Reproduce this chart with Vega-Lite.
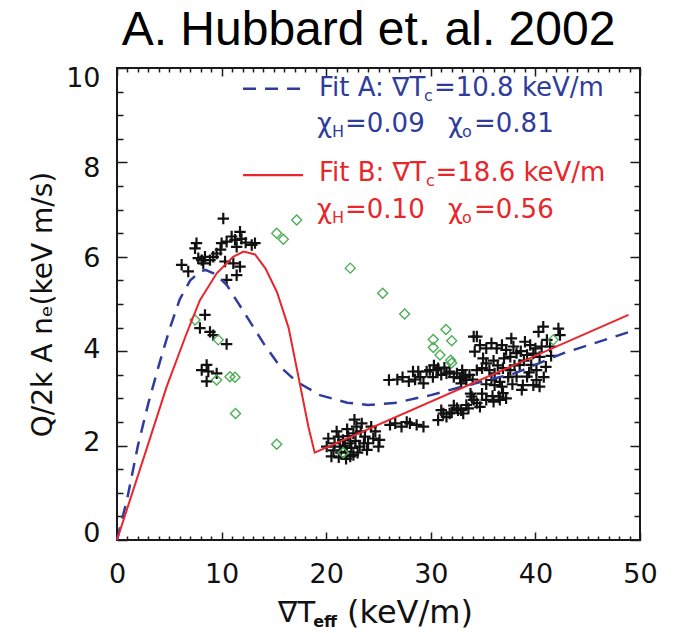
{
  "$schema": "https://vega.github.io/schema/vega-lite/v6.json",
  "width": 523,
  "height": 472,
  "autosize": {"type": "none"},
  "padding": {"left": 117, "top": 68, "right": 34, "bottom": 93},
  "background": "white",
  "title": {"text": "A. Hubbard et. al. 2002", "font": "Liberation Sans", "fontSize": 48, "fontWeight": "normal", "color": "#000000", "offset": 10, "dx": -10, "anchor": "middle"},
  "config": {
    "view": {"stroke": "#1a1a1a", "strokeWidth": 2},
    "axis": {"grid": false, "domain": false, "tickColor": "#1a1a1a", "tickWidth": 1.5, "labelFont": "DejaVu Sans", "labelFontSize": 27, "labelColor": "#111111", "title": null}
  },
  "resolve": {"axis": {"x": "independent", "y": "independent"}},
  "datasets": {
    "crosses": [
      {"x":10.16,"y":6.81},{"x":7.6,"y":6.29},{"x":7.46,"y":6.18},{"x":7.77,"y":5.97},{"x":8.1,"y":5.93},{"x":8.41,"y":6.0},{"x":9.2,"y":6.0},{"x":9.53,"y":6.07},{"x":10.0,"y":6.29},{"x":10.48,"y":6.32},{"x":10.96,"y":6.43},{"x":11.28,"y":6.36},{"x":11.76,"y":6.53},{"x":11.44,"y":6.21},{"x":13.19,"y":6.29},{"x":12.88,"y":6.25},{"x":6.18,"y":5.83},{"x":6.81,"y":5.69},{"x":10.33,"y":5.9},{"x":11.12,"y":5.86},{"x":11.76,"y":5.79},{"x":11.44,"y":5.61},{"x":10.48,"y":5.51},{"x":8.89,"y":5.93},{"x":8.25,"y":5.86},{"x":9.9,"y":6.15},{"x":11.9,"y":6.38},{"x":12.3,"y":6.3},
      {"x":8.41,"y":4.77},{"x":7.93,"y":4.49},{"x":8.89,"y":4.41},{"x":9.2,"y":4.34},{"x":10.48,"y":4.15},{"x":8.57,"y":3.71},{"x":8.1,"y":3.6},{"x":8.73,"y":3.57},{"x":9.53,"y":3.53},{"x":8.57,"y":3.36},
      {"x":20.05,"y":1.98},{"x":20.5,"y":1.77},{"x":21.17,"y":2.19},{"x":21.3,"y":1.98},{"x":21.96,"y":1.87},{"x":22.3,"y":2.05},{"x":22.6,"y":1.8},{"x":22.9,"y":2.4},{"x":23.2,"y":1.98},{"x":23.7,"y":2.19},{"x":23.9,"y":1.91},{"x":24.3,"y":2.4},{"x":24.5,"y":2.15},{"x":25.0,"y":1.98},{"x":25.1,"y":2.12},{"x":23.4,"y":2.47},{"x":22.6,"y":2.26},{"x":21.6,"y":2.12},{"x":22.3,"y":1.77},{"x":21.0,"y":2.3},{"x":22.0,"y":2.35},{"x":24.0,"y":2.05},
      {"x":20.8,"y":2.05},{"x":21.4,"y":1.85},{"x":21.8,"y":2.0},{"x":22.1,"y":2.2},{"x":22.8,"y":2.1},{"x":23.0,"y":1.85},{"x":23.3,"y":2.3},{"x":22.4,"y":1.95},{"x":21.2,"y":1.75},{"x":20.2,"y":2.15},{"x":24.7,"y":2.3},{"x":23.6,"y":2.05},{"x":22.7,"y":2.55},{"x":21.9,"y":1.72},{"x":20.7,"y":1.9},
      {"x":26.1,"y":2.44},{"x":26.6,"y":2.47},{"x":27.2,"y":2.4},{"x":28.0,"y":2.47},{"x":28.65,"y":2.44},{"x":29.3,"y":2.4},{"x":30.7,"y":2.54},{"x":31.2,"y":2.68},{"x":31.8,"y":2.68},{"x":32.5,"y":2.79},{"x":32.9,"y":2.75},{"x":33.4,"y":2.86},{"x":34.1,"y":2.97},{"x":34.4,"y":2.9},{"x":27.7,"y":2.5},{"x":31.5,"y":2.61},{"x":32.0,"y":2.7},{"x":32.6,"y":2.75},{"x":33.1,"y":2.68},{"x":33.6,"y":2.79},{"x":33.9,"y":3.04},{"x":34.7,"y":2.82},{"x":35.3,"y":2.97},{"x":36.0,"y":2.93},{"x":36.5,"y":3.04},{"x":36.9,"y":3.11},{"x":37.2,"y":3.0},{"x":36.8,"y":3.25},{"x":36.1,"y":3.28},{"x":38.7,"y":3.18},{"x":38.8,"y":3.28},{"x":38.2,"y":3.46},{"x":39.8,"y":3.28},{"x":40.4,"y":3.25},{"x":40.1,"y":3.39},{"x":36.6,"y":2.97},{"x":35.8,"y":3.39},
      {"x":27.9,"y":3.36},{"x":28.8,"y":3.57},{"x":29.3,"y":3.32},{"x":29.9,"y":3.6},{"x":30.7,"y":3.64},{"x":31.0,"y":3.5},{"x":31.8,"y":3.57},{"x":32.5,"y":3.53},{"x":32.8,"y":3.43},{"x":33.3,"y":3.46},{"x":33.7,"y":3.5},{"x":34.4,"y":3.6},{"x":34.9,"y":3.64},{"x":35.3,"y":3.74},{"x":34.2,"y":3.99},{"x":34.7,"y":4.13},{"x":34.4,"y":4.31},{"x":35.3,"y":4.06},{"x":35.8,"y":4.17},{"x":36.3,"y":4.06},{"x":36.8,"y":4.13},{"x":37.2,"y":4.03},{"x":37.7,"y":4.27},{"x":37.9,"y":4.1},{"x":37.6,"y":3.88},{"x":38.2,"y":3.96},{"x":38.5,"y":3.71},{"x":39.2,"y":3.92},{"x":39.5,"y":4.13},{"x":40.0,"y":4.06},{"x":40.3,"y":4.41},{"x":40.75,"y":4.52},{"x":41.1,"y":4.24},{"x":40.4,"y":3.88},{"x":39.6,"y":3.71},{"x":42.2,"y":4.48},{"x":42.35,"y":4.34},{"x":41.4,"y":4.1},{"x":41.0,"y":3.67},{"x":40.1,"y":3.6},{"x":36.1,"y":3.53},{"x":36.9,"y":3.64},{"x":37.6,"y":3.6},{"x":33.4,"y":3.39},{"x":32.9,"y":3.32},{"x":39.2,"y":3.46},{"x":28.3,"y":3.57},{"x":29.6,"y":3.57},{"x":30.55,"y":3.6},{"x":31.5,"y":3.53},{"x":33.1,"y":3.46},{"x":34.1,"y":4.31},{"x":35.0,"y":3.85},{"x":36.0,"y":3.8},{"x":38.9,"y":3.8},{"x":30.2,"y":3.45},{"x":26.0,"y":3.39},
      {"x":35.6,"y":3.6},{"x":36.4,"y":3.7},{"x":37.0,"y":3.85},{"x":37.4,"y":3.45},{"x":38.0,"y":3.7},{"x":38.6,"y":4.0},{"x":39.0,"y":4.2},{"x":39.8,"y":3.95},{"x":40.6,"y":4.1},{"x":41.5,"y":3.9},{"x":36.6,"y":3.35},{"x":37.8,"y":3.3},{"x":35.3,"y":3.3},{"x":34.9,"y":3.1},{"x":35.9,"y":3.05},{"x":39.4,"y":3.55},{"x":40.8,"y":3.45},{"x":33.8,"y":3.1},{"x":32.2,"y":2.85},{"x":31.0,"y":2.75},
      {"x":30.3,"y":3.7},{"x":31.3,"y":3.65},{"x":32.2,"y":3.45},{"x":33.0,"y":3.6},{"x":34.0,"y":3.4},{"x":29.0,"y":3.45},{"x":28.5,"y":3.4},{"x":27.3,"y":3.45},{"x":26.8,"y":3.4}
    ],
    "diamonds": [
      {"x":17.18,"y":6.78},{"x":15.27,"y":6.5},{"x":15.9,"y":6.37},{"x":7.46,"y":4.66},{"x":9.68,"y":4.24},{"x":9.53,"y":3.39},{"x":10.8,"y":3.46},{"x":11.28,"y":3.45},{"x":11.33,"y":2.68},{"x":15.27,"y":2.03},{"x":21.63,"y":1.85},{"x":22.3,"y":5.76},{"x":25.4,"y":5.23},{"x":27.5,"y":4.79},{"x":30.24,"y":4.25},{"x":31.45,"y":4.46},{"x":32.0,"y":4.22},{"x":30.24,"y":4.08},{"x":30.88,"y":3.92},{"x":31.9,"y":3.81},{"x":32.0,"y":3.75},{"x":41.7,"y":4.24}
    ],
    "fitA": [
      {"x":0,"y":0},{"x":1,"y":0.9},{"x":2,"y":2.0},{"x":3,"y":2.9},{"x":4,"y":3.7},{"x":5,"y":4.45},{"x":6,"y":5.1},{"x":7,"y":5.5},{"x":8,"y":5.7},{"x":8.5,"y":5.72},{"x":9.5,"y":5.62},{"x":10.5,"y":5.4},{"x":11.5,"y":5.05},{"x":12.5,"y":4.7},{"x":14,"y":4.17},{"x":15.6,"y":3.67},{"x":17.2,"y":3.35},{"x":19.4,"y":3.07},{"x":22,"y":2.91},{"x":24,"y":2.86},{"x":26.5,"y":2.9},{"x":30,"y":3.07},{"x":33,"y":3.25},{"x":38,"y":3.53},{"x":42.7,"y":3.96},{"x":49,"y":4.41}
    ],
    "fitB": [
      {"x":0,"y":0},{"x":2.8,"y":1.91},{"x":4.75,"y":3.25},{"x":6.66,"y":4.38},{"x":7.93,"y":5.08},{"x":9.53,"y":5.65},{"x":11.1,"y":6.0},{"x":12.1,"y":6.11},{"x":13.2,"y":6.05},{"x":14.2,"y":5.75},{"x":15.3,"y":5.25},{"x":16.4,"y":4.5},{"x":17.4,"y":3.4},{"x":18.3,"y":2.4},{"x":18.9,"y":1.85},{"x":48.9,"y":4.77}
    ],
    "legendLines": [
      {"fit":"A","x":12.05,"x2":17.78,"y":9.56},
      {"fit":"B","x":12.05,"x2":17.78,"y":7.73}
    ],
    "legendMain": [
      {"fit":"A","x":19.31,"y":9.58,"text":"Fit A: ∇T"},
      {"fit":"A","x":30.3,"y":9.58,"text":"=10.8 keV/m"},
      {"fit":"A","x":19.12,"y":8.81,"text":"χ"},
      {"fit":"A","x":21.8,"y":8.81,"text":"=0.09"},
      {"fit":"A","x":31.64,"y":8.81,"text":"χ"},
      {"fit":"A","x":34.13,"y":8.81,"text":"=0.81"},
      {"fit":"B","x":19.31,"y":7.78,"text":"Fit B: ∇T"},
      {"fit":"B","x":30.45,"y":7.78,"text":"=18.6 keV/m"},
      {"fit":"B","x":19.12,"y":6.99,"text":"χ"},
      {"fit":"B","x":21.8,"y":6.99,"text":"=0.10"},
      {"fit":"B","x":31.64,"y":6.99,"text":"χ"},
      {"fit":"B","x":34.13,"y":6.99,"text":"=0.56"}
    ],
    "legendSub": [
      {"fit":"A","x":29.35,"y":9.41,"text":"c"},
      {"fit":"A","x":20.55,"y":8.64,"text":"H"},
      {"fit":"A","x":32.98,"y":8.64,"text":"o"},
      {"fit":"B","x":29.55,"y":7.61,"text":"c"},
      {"fit":"B","x":20.55,"y":6.82,"text":"H"},
      {"fit":"B","x":32.98,"y":6.82,"text":"o"}
    ],
    "xTitleMain": [
      {"x":15.39,"y":-1.55,"text":"∇T","part":"a"},
      {"x":21.99,"y":-1.55,"text":"(keV/m)","part":"b"}
    ],
    "xTitleSub": [
      {"x":18.75,"y":-1.74,"text":"eff"}
    ]
  },
  "layer": [
    {
      "data": {"name": "crosses"},
      "mark": {"type": "point", "shape": "M-1,0H1M0,-1V1", "filled": false, "stroke": "#111111", "strokeWidth": 2.2, "size": 130, "opacity": 1},
      "encoding": {
        "x": {"field": "x", "type": "quantitative", "scale": {"domain": [0, 50]},
              "axis": {"orient": "bottom", "values": [0,10,20,30,40,50], "ticks": false, "labelPadding": 21, "labelFlush": false}},
        "y": {"field": "y", "type": "quantitative", "scale": {"domain": [0, 10]},
              "axis": {"orient": "left", "values": [0.13,2.06,4.03,5.97,7.88,9.77], "labelExpr": "format(round(datum.value / 2) * 2, 'd')", "ticks": false, "labelPadding": 17, "title": "Q/2k A nₑ(keV m/s)", "titleFont": "DejaVu Sans", "titleFontSize": 28, "titleFontWeight": "normal", "titleColor": "#111111", "titlePadding": 8}}
      }
    },
    {
      "data": {"name": "diamonds"},
      "mark": {"type": "point", "shape": "diamond", "filled": false, "stroke": "#4cae57", "strokeWidth": 1.4, "size": 100, "opacity": 1},
      "encoding": {
        "x": {"field": "x", "type": "quantitative", "scale": {"domain": [0, 50]},
              "axis": {"orient": "bottom", "values": [0,10,20,30,40,50], "labels": false, "tickSize": -8}},
        "y": {"field": "y", "type": "quantitative", "scale": {"domain": [0, 10]},
              "axis": {"orient": "left", "values": [0,2,4,6,8,10], "labels": false, "tickSize": -10}}
      }
    },
    {
      "data": {"name": "fitA"},
      "mark": {"type": "line", "stroke": "#2f3c9c", "strokeWidth": 2.5, "strokeDash": [13, 9]},
      "encoding": {
        "x": {"field": "x", "type": "quantitative", "scale": {"domain": [0, 50]},
              "axis": {"orient": "bottom", "values": [1,2,3,4,5,6,7,8,9,11,12,13,14,15,16,17,18,19,21,22,23,24,25,26,27,28,29,31,32,33,34,35,36,37,38,39,41,42,43,44,45,46,47,48,49], "labels": false, "tickSize": -4}},
        "y": {"field": "y", "type": "quantitative", "scale": {"domain": [0, 10]},
              "axis": {"orient": "left", "values": [0.5,1,1.5,2.5,3,3.5,4.5,5,5.5,6.5,7,7.5,8.5,9,9.5], "labels": false, "tickSize": -6}}
      }
    },
    {
      "data": {"name": "fitB"},
      "mark": {"type": "line", "stroke": "#e8262c", "strokeWidth": 2},
      "encoding": {
        "x": {"field": "x", "type": "quantitative", "scale": {"domain": [0, 50]},
              "axis": {"orient": "top", "values": [0,10,20,30,40,50], "labels": false, "tickSize": -8}},
        "y": {"field": "y", "type": "quantitative", "scale": {"domain": [0, 10]},
              "axis": {"orient": "right", "values": [0,2,4,6,8,10], "labels": false, "tickSize": -10}}
      }
    },
    {
      "data": {"name": "legendLines"},
      "mark": {"type": "rule", "strokeWidth": 2.3},
      "encoding": {
        "x": {"field": "x", "type": "quantitative", "scale": {"domain": [0, 50]},
              "axis": {"orient": "top", "values": [1,2,3,4,5,6,7,8,9,11,12,13,14,15,16,17,18,19,21,22,23,24,25,26,27,28,29,31,32,33,34,35,36,37,38,39,41,42,43,44,45,46,47,48,49], "labels": false, "tickSize": -4}},
        "x2": {"field": "x2"},
        "y": {"field": "y", "type": "quantitative", "scale": {"domain": [0, 10]},
              "axis": {"orient": "right", "values": [0.5,1,1.5,2.5,3,3.5,4.5,5,5.5,6.5,7,7.5,8.5,9,9.5], "labels": false, "tickSize": -6}},
        "color": {"field": "fit", "type": "nominal", "scale": {"domain": ["A", "B"], "range": ["#2f3c9c", "#e8262c"]}, "legend": null},
        "strokeDash": {"field": "fit", "type": "nominal", "scale": {"domain": ["A", "B"], "range": [[13, 9], [1, 0]]}, "legend": null}
      }
    },
    {
      "data": {"name": "legendMain"},
      "mark": {"type": "text", "font": "DejaVu Sans", "fontSize": 26, "align": "left", "baseline": "middle"},
      "encoding": {
        "x": {"field": "x", "type": "quantitative", "scale": {"domain": [0, 50]}, "axis": null},
        "y": {"field": "y", "type": "quantitative", "scale": {"domain": [0, 10]}, "axis": null},
        "text": {"field": "text"},
        "color": {"field": "fit", "type": "nominal", "scale": {"domain": ["A", "B"], "range": ["#2e3a94", "#ec2a2e"]}, "legend": null}
      }
    },
    {
      "data": {"name": "legendSub"},
      "mark": {"type": "text", "font": "DejaVu Sans", "fontSize": 16, "align": "left", "baseline": "middle"},
      "encoding": {
        "x": {"field": "x", "type": "quantitative", "scale": {"domain": [0, 50]}, "axis": null},
        "y": {"field": "y", "type": "quantitative", "scale": {"domain": [0, 10]}, "axis": null},
        "text": {"field": "text"},
        "color": {"field": "fit", "type": "nominal", "scale": {"domain": ["A", "B"], "range": ["#2e3a94", "#ec2a2e"]}, "legend": null}
      }
    },
    {
      "data": {"name": "xTitleMain"},
      "mark": {"type": "text", "font": "DejaVu Sans", "align": "left", "baseline": "middle", "color": "#111111"},
      "encoding": {
        "x": {"field": "x", "type": "quantitative", "scale": {"domain": [0, 50]}, "axis": null},
        "y": {"field": "y", "type": "quantitative", "scale": {"domain": [0, 10]}, "axis": null},
        "text": {"field": "text"},
        "size": {"field": "part", "type": "nominal", "scale": {"domain": ["a", "b"], "range": [29, 32]}, "legend": null}
      }
    },
    {
      "data": {"name": "xTitleSub"},
      "mark": {"type": "text", "font": "DejaVu Sans", "fontSize": 16, "fontWeight": "bold", "align": "left", "baseline": "middle", "color": "#111111"},
      "encoding": {
        "x": {"field": "x", "type": "quantitative", "scale": {"domain": [0, 50]}, "axis": null},
        "y": {"field": "y", "type": "quantitative", "scale": {"domain": [0, 10]}, "axis": null},
        "text": {"field": "text"}
      }
    }
  ]
}
